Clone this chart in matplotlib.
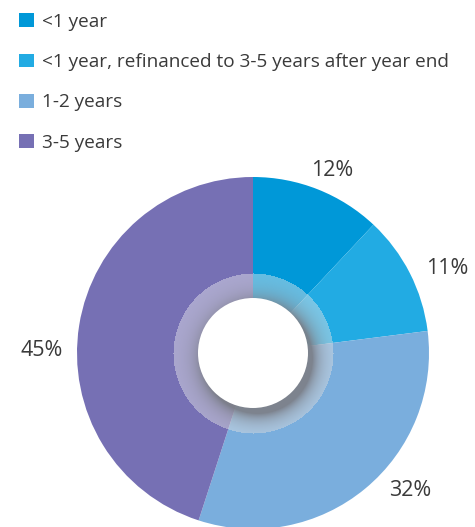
import numpy as np
import matplotlib.pyplot as plt
from matplotlib.patches import Patch, Circle

categories = ["<1 year", "<1 year, refinanced to 3-5 years after year end", "1-2 years", "3-5 years"]
values = [12, 11, 32, 45]
labels = ["12%", "11%", "32%", "45%"]
colors = ["#0098d8", "#22abe3", "#7aaedd", "#7670b4"]
# label positions (image px)
label_pos = [(332, 170), (447, 268), (410, 490), (42, 350)]

W, H = 475, 527
fig = plt.figure(figsize=(W / 100, H / 100), dpi=100)
ax = fig.add_axes([0, 0, 1, 1])
plt.rcParams['font.family'] = ['Open Sans', 'DejaVu Sans']

cx, cy, R = 253, H - 353, 176
wedges, texts = ax.pie(values, colors=colors, startangle=90, counterclock=False,
                       center=(cx, cy), radius=R, labels=labels, labeldistance=1.18,
                       wedgeprops=dict(linewidth=0),
                       textprops=dict(fontsize=15.5, color="#3a3a3a"))
for t, (px, py) in zip(texts, label_pos):
    t.set_position((px, H - py))
    t.set_ha("center")
    t.set_va("center")

# translucent ring + shadow around the hole
r_in, r_ring = 55, 80
ys, xs = np.mgrid[0:H, 0:W]
yy = H - ys
d = np.hypot(xs - cx, yy - cy)
ds = np.hypot(xs - (cx + 4), yy - (cy - 5))
rgba = np.zeros((H, W, 4))
ring = (d <= r_ring)
a_white = np.where(ring, 0.40, 0.0)
a_dark = np.where(ring, 0.9 * np.exp(-np.clip(ds - r_in, 0, None) / 10.0), 0.0)
a_tot = a_white + a_dark * (1 - a_white)
col = np.where(a_tot[..., None] > 0,
               (a_white[..., None] * 1.0 + (a_dark * (1 - a_white))[..., None] * np.array([0.12, 0.14, 0.2])) / np.maximum(a_tot, 1e-9)[..., None],
               0)
rgba[..., :3] = col
rgba[..., 3] = a_tot
ax.imshow(rgba, extent=(0, W, 0, H), origin="upper", zorder=3, interpolation="bilinear")
ax.add_patch(Circle((cx, cy), r_in, color="white", zorder=4, lw=0))

handles = [Patch(facecolor=c, edgecolor="none") for c in colors]
ax.legend(handles, categories, loc="upper left", bbox_to_anchor=(0.025, 0.99),
          frameon=False, fontsize=13.7, labelcolor="#3a3a3a", handlelength=0.75,
          handleheight=0.75, handletextpad=0.45, labelspacing=1.17, borderaxespad=0)

ax.set_xlim(0, W)
ax.set_ylim(0, H)
ax.set_aspect("equal")
ax.axis("off")
plt.savefig("out.png", dpi=100)
